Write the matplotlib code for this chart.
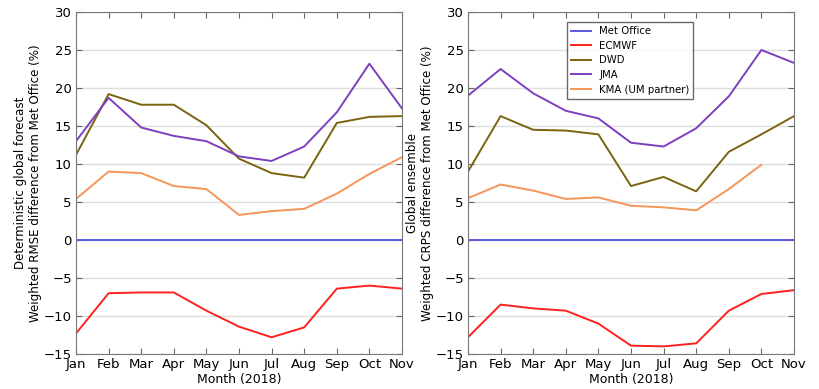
import numpy as np
import matplotlib
matplotlib.use('Agg')
import matplotlib.pyplot as plt

months = ['Jan', 'Feb', 'Mar', 'Apr', 'May', 'Jun', 'Jul', 'Aug', 'Sep', 'Oct', 'Nov']
centres = ['Met Office', 'ECMWF', 'DWD', 'JMA', 'KMA (UM partner)']
colours = ['#5a5ae0', '#ff2020', '#7a6410', '#7d3fc0', '#f5955a']

# deterministic RMSE differences (%)
det_metoffice = [0, 0, 0, 0, 0, 0, 0, 0, 0, 0, 0]
det_ecmwf = [-12.3, -7.0, -6.9, -6.9, -9.3, -11.4, -12.8, -11.5, -6.4, -6.0, -6.4]
det_dwd = [11.2, 19.2, 17.8, 17.8, 15.1, 10.7, 8.8, 8.2, 15.4, 16.2, 16.3]
det_jma = [13.0, 18.7, 14.8, 13.7, 13.0, 11.0, 10.4, 12.3, 16.8, 23.2, 17.3]
det_kma = [5.4, 9.0, 8.8, 7.1, 6.7, 3.3, 3.8, 4.1, 6.1, 8.7, 10.9]

# ensemble CRPS differences (%)
ens_metoffice = [0, 0, 0, 0, 0, 0, 0, 0, 0, 0, 0]
ens_ecmwf = [-12.8, -8.5, -9.0, -9.3, -11.0, -13.9, -14.0, -13.6, -9.3, -7.1, -6.6]
ens_dwd = [9.0, 16.3, 14.5, 14.4, 13.9, 7.1, 8.3, 6.4, 11.6, 13.9, 16.3]
ens_jma = [19.0, 22.5, 19.3, 17.0, 16.0, 12.8, 12.3, 14.7, 18.9, 25.0, 23.3]
ens_kma = [5.5, 7.3, 6.5, 5.4, 5.6, 4.5, 4.3, 3.9, 6.7, 9.9, np.nan]

det = [det_metoffice, det_ecmwf, det_dwd, det_jma, det_kma]
ens = [ens_metoffice, ens_ecmwf, ens_dwd, ens_jma, ens_kma]

fig = plt.figure(figsize=(8.19, 3.89), dpi=100)
ax1 = fig.add_axes([76/819, 1 - 354/389, 326/819, 342/389])
ax2 = fig.add_axes([468/819, 1 - 354/389, 326/819, 342/389])

x = np.arange(len(months))
for ax, series, ylab in [(ax1, det, 'Deterministic global forecast\nWeighted RMSE difference from Met Office (%)'),
                         (ax2, ens, 'Global ensemble\nWeighted CRPS difference from Met Office (%)')]:
    for vals, name, c in zip(series, centres, colours):
        ax.plot(x, vals, color=c, linewidth=1.4, label=name)
    ax.set_xlim(0, len(months) - 1)
    ax.set_ylim(-15, 30)
    ax.set_yticks(np.arange(-15, 31, 5))
    ax.set_xticks(x)
    ax.set_xticklabels(months)
    ax.yaxis.grid(True, color='#dddddd', linewidth=1)
    ax.set_axisbelow(True)
    ax.tick_params(direction='in', top=True, right=True, labelsize=9.5, length=4,
                   color='#666666', pad=3)
    for s in ax.spines.values():
        s.set_color('#787878')
    ax.set_xlabel('Month (2018)', fontsize=9, labelpad=1)
    ax.set_ylabel(ylab, fontsize=8.6, labelpad=1, linespacing=1.25)

leg = ax2.legend(loc='upper center', fontsize=7.3, frameon=True, fancybox=False,
                 bbox_to_anchor=(0.497, 0.985), handlelength=2.0, labelspacing=0.45,
                 borderpad=0.4)
leg.get_frame().set_edgecolor('#444444')

fig.savefig('out.png', dpi=100)
